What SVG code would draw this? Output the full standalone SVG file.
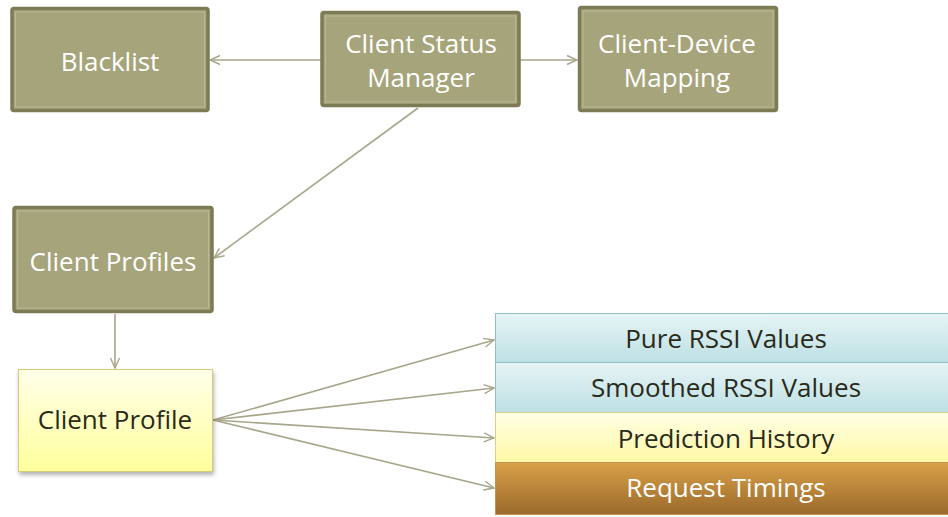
<svg xmlns="http://www.w3.org/2000/svg" width="948" height="517" viewBox="0 0 948 517">
  <defs>
    <style>
      .olive { fill: #a6a47a; stroke: #7d7b55; stroke-width: 3.5; }
      .olive-in { fill: none; stroke: #b9b795; stroke-width: 1; }
      .wt { font-family: "Open Sans", "Liberation Sans", sans-serif; font-size: 26px; fill: #ffffff; text-anchor: middle; }
      .dk { font-family: "Open Sans", "Liberation Sans", sans-serif; font-size: 26px; fill: #2a2a1a; text-anchor: middle; }
      .conn { fill: none; stroke: #a8a68a; stroke-width: 1.6; marker-end: url(#arrow); }
    </style>
    <marker id="arrow" viewBox="0 0 12 12" refX="11" refY="6" markerWidth="12" markerHeight="12" markerUnits="userSpaceOnUse" orient="auto">
      <path d="M1,1.5 L11,6 L1,10.5" fill="none" stroke="#a8a68a" stroke-width="1.4"/>
    </marker>
    <linearGradient id="gYellow" x1="0" y1="0" x2="0" y2="1">
      <stop offset="0" stop-color="#ffffea"/>
      <stop offset="1" stop-color="#ffff9c"/>
    </linearGradient>
    <linearGradient id="gCyan" x1="0" y1="0" x2="0" y2="1">
      <stop offset="0" stop-color="#e6f4f5"/>
      <stop offset="1" stop-color="#bde0e4"/>
    </linearGradient>
    <linearGradient id="gPale" x1="0" y1="0" x2="0" y2="1">
      <stop offset="0" stop-color="#ffffe4"/>
      <stop offset="1" stop-color="#fff8a6"/>
    </linearGradient>
    <linearGradient id="gBrown" x1="0" y1="0" x2="0" y2="1">
      <stop offset="0" stop-color="#d9a048"/>
      <stop offset="1" stop-color="#9a6a2c"/>
    </linearGradient>
    <filter id="shadow" x="-10%" y="-10%" width="125%" height="130%">
      <feDropShadow dx="1" dy="3" stdDeviation="2" flood-color="#000" flood-opacity="0.3"/>
    </filter>
  </defs>

  <!-- connectors -->
  <g id="connectors">
    <line class="conn" x1="321" y1="60" x2="210" y2="60"/>
    <line class="conn" x1="520" y1="60" x2="577" y2="60"/>
    <line class="conn" x1="418" y1="108" x2="214" y2="258"/>
    <line class="conn" x1="115" y1="314" x2="115" y2="368"/>
    <line class="conn" x1="213" y1="420" x2="494" y2="340"/>
    <line class="conn" x1="213" y1="420" x2="494" y2="388"/>
    <line class="conn" x1="213" y1="420" x2="494" y2="438"/>
    <line class="conn" x1="213" y1="420" x2="494" y2="488"/>
  </g>

  <g id="blacklist">
    <rect class="olive" x="12" y="8.5" width="196" height="102" rx="2"/>
    <rect class="olive-in" x="15.5" y="12" width="189" height="95"/>
    <text class="wt" x="110" y="71">Blacklist</text>
  </g>

  <g id="client-status-manager">
    <rect class="olive" x="322" y="12.5" width="197" height="93" rx="2"/>
    <rect class="olive-in" x="325.5" y="16" width="190" height="86"/>
    <text class="wt" x="421" y="53">Client Status</text>
    <text class="wt" x="421" y="87">Manager</text>
  </g>

  <g id="client-device-mapping">
    <rect class="olive" x="579.5" y="7.5" width="197" height="103" rx="2"/>
    <rect class="olive-in" x="583" y="11" width="190" height="96"/>
    <text class="wt" x="677" y="53">Client-Device</text>
    <text class="wt" x="677" y="87">Mapping</text>
  </g>

  <g id="client-profiles">
    <rect class="olive" x="14" y="207.5" width="198" height="104" rx="2"/>
    <rect class="olive-in" x="17.5" y="211" width="191" height="97"/>
    <text class="wt" x="113" y="271">Client Profiles</text>
  </g>

  <g id="client-profile">
    <rect x="18.5" y="369.5" width="194" height="102" fill="url(#gYellow)" stroke="#d6cc74" stroke-width="1" filter="url(#shadow)"/>
    <text class="dk" x="115" y="429">Client Profile</text>
  </g>

  <g id="profile-fields">
    <g id="pure-rssi">
      <rect x="495.5" y="313.5" width="460" height="49" fill="url(#gCyan)" stroke="#92bec6" stroke-width="1"/>
      <text class="dk" x="726" y="348">Pure RSSI Values</text>
    </g>
    <g id="smoothed-rssi">
      <rect x="495.5" y="362.5" width="460" height="50" fill="url(#gCyan)" stroke="#92bec6" stroke-width="1"/>
      <text class="dk" x="726" y="397">Smoothed RSSI Values</text>
    </g>
    <g id="prediction-history">
      <rect x="495.5" y="412.5" width="460" height="50" fill="url(#gPale)" stroke="#d8d08a" stroke-width="1"/>
      <text class="dk" x="726" y="448">Prediction History</text>
    </g>
    <g id="request-timings">
      <rect x="495.5" y="462.5" width="460" height="52" fill="url(#gBrown)" stroke="#c49454" stroke-width="1"/>
      <text class="wt" x="726" y="497">Request Timings</text>
    </g>
  </g>
</svg>
